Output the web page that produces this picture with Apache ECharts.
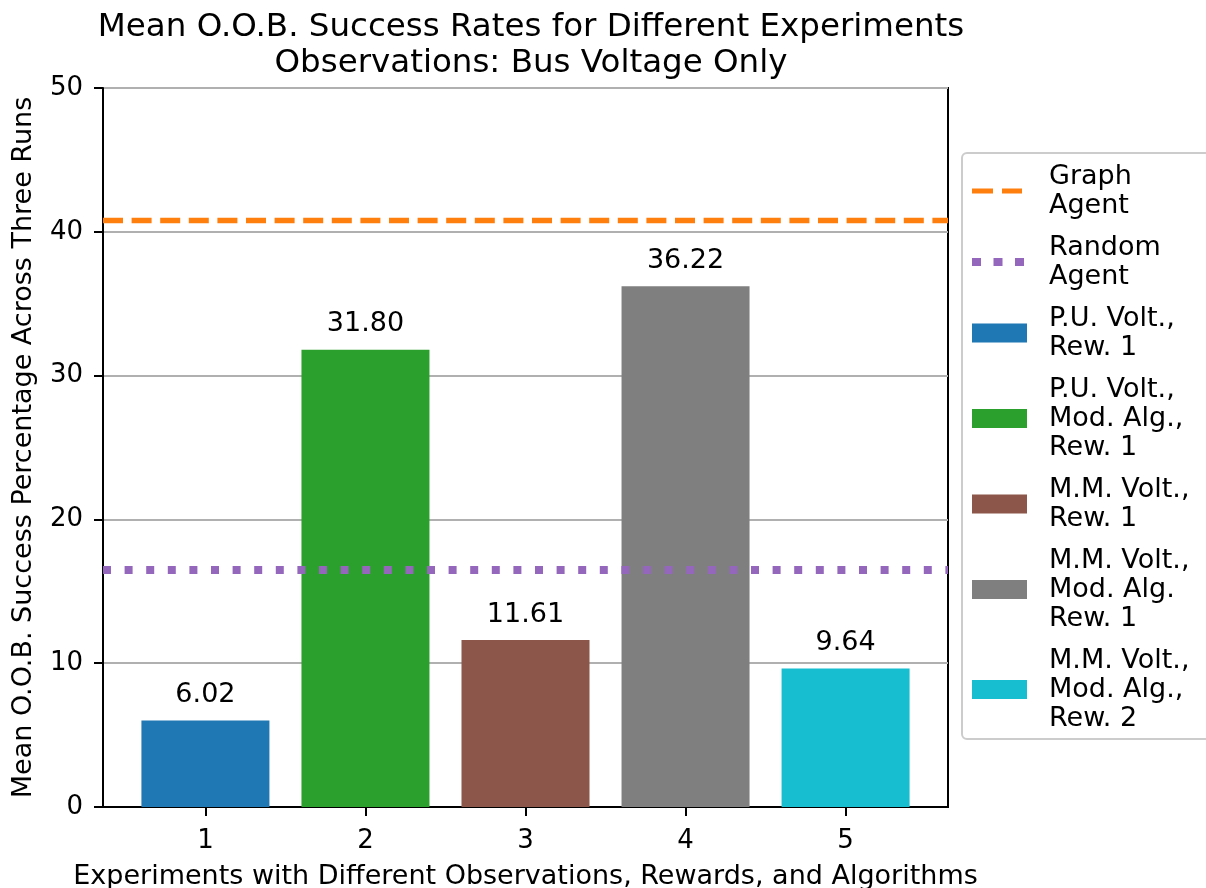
<!DOCTYPE html>
<html>
<head>
<meta charset="utf-8">
<script src="https://cdn.jsdelivr.net/npm/echarts@6/dist/echarts.min.js"></script>
<style>
  html, body { margin: 0; padding: 0; background: #fff; }
  #container { width: 1206px; height: 888px; }
</style>
</head>
<body>
<div id="container"></div>
<script>
// data
var experiments = [1, 2, 3, 4, 5];
var barNames = [
    'P.U. Volt.,\nRew. 1',
    'P.U. Volt.,\nMod. Alg.,\nRew. 1',
    'M.M. Volt.,\nRew. 1',
    'M.M. Volt.,\nMod. Alg.\nRew. 1',
    'M.M. Volt.,\nMod. Alg.,\nRew. 2'
];
var successRates = [6.02, 31.80, 11.61, 36.22, 9.64];
var barColors = ['#1f77b4', '#2ca02c', '#8c564b', '#7f7f7f', '#17becf'];
var graphAgent = 40.77;
var randomAgent = 16.48;
var yTicks = [0, 10, 20, 30, 40, 50];

var font = 'DejaVu Sans';
var orange = '#ff7f0e';
var purple = '#9467bd';

var dom = document.getElementById('container');
var myChart = echarts.init(dom, null, { renderer: 'canvas' });

// reference lines (legend entries first)
var series = [
    {
        name: 'Graph\nAgent',
        type: 'line',
        data: [],
        z: 5,
        symbol: 'none',
        itemStyle: { color: orange },
        lineStyle: { color: orange, width: 5.4, type: [20, 8.6] },
        markLine: {
            silent: true,
            symbol: 'none',
            label: { show: false },
            lineStyle: { color: orange, width: 5.4, type: [20, 8.6] },
            data: [{ yAxis: graphAgent }]
        }
    },
    {
        name: 'Random\nAgent',
        type: 'line',
        data: [],
        z: 1,
        symbol: 'none',
        itemStyle: { color: purple },
        lineStyle: { color: purple, width: 8, type: [8, 13.6] },
        markLine: {
            silent: true,
            symbol: 'none',
            label: { show: false },
            lineStyle: { color: purple, width: 8, type: [8, 13.6] },
            data: [{ yAxis: randomAgent }]
        }
    }
];

// one bar series per experiment so each gets its own legend entry
experiments.forEach(function (e, i) {
    series.push({
        name: barNames[i],
        type: 'bar',
        z: 3,
        barWidth: 128,
        barGap: '-100%',
        itemStyle: { color: barColors[i] },
        data: [[e, successRates[i]]],
        label: {
            show: true,
            position: 'top',
            distance: 12,
            fontFamily: font,
            fontSize: 27,
            color: '#000',
            formatter: function (p) { return p.value[1].toFixed(2); }
        }
    });
});

// legend entries: dashed / dotted samples drawn as small paths
var legendData = [
    {
        name: 'Graph\nAgent',
        icon: 'path://M0,0M55,19M0,7h21v5h-21zM30,7h20v5h-20z',
        itemStyle: { color: orange, borderWidth: 0 }
    },
    {
        name: 'Random\nAgent',
        icon: 'path://M0,0M55,19M0,5.5h9v8h-9zM21.5,5.5h9v8h-9zM43,5.5h9v8h-9z',
        itemStyle: { color: purple, borderWidth: 0 }
    }
];
barNames.forEach(function (n) {
    legendData.push({ name: n, icon: 'rect' });
});

var option = {
    animation: false,
    title: {
        text: 'Mean O.O.B. Success Rates for Different Experiments\nObservations: Bus Voltage Only',
        left: 526,
        top: 5,
        textAlign: 'center',
        textStyle: {
            fontFamily: font,
            fontSize: 32.5,
            fontWeight: 'normal',
            color: '#000',
            lineHeight: 36
        }
    },
    grid: {
        left: 103,
        right: 258,
        top: 88,
        bottom: 81,
        outerBoundsMode: 'none',
        containLabel: false,
        show: true,
        borderColor: '#000',
        borderWidth: 2,
        backgroundColor: 'transparent'
    },
    legend: {
        orient: 'vertical',
        left: 962,
        top: 153,
        padding: [9, 40, 6, 10],
        itemGap: 13,
        itemWidth: 55,
        itemHeight: 19,
        backgroundColor: '#fff',
        borderColor: '#cccccc',
        borderWidth: 2,
        borderRadius: 5,
        selectedMode: false,
        data: legendData,
        textStyle: {
            fontFamily: font,
            fontSize: 27,
            lineHeight: 29,
            color: '#000',
            padding: [0, 0, 0, 17]
        }
    },
    xAxis: {
        type: 'value',
        min: 0.36,
        max: 5.64,
        name: 'Experiments with Different Observations, Rewards, and Algorithms',
        nameLocation: 'middle',
        nameGap: 56,
        nameMoveOverlap: false,
        nameTextStyle: { fontFamily: font, fontSize: 27, color: '#000' },
        axisLine: { show: true, onZero: false, lineStyle: { color: '#000', width: 2 } },
        axisTick: { show: true, length: 9, lineStyle: { color: '#000', width: 2 }, customValues: experiments },
        axisLabel: { fontFamily: font, fontSize: 26, color: '#000', margin: 21, customValues: experiments },
        splitLine: { show: false }
    },
    yAxis: {
        type: 'value',
        min: 0,
        max: 50,
        interval: 10,
        name: 'Mean O.O.B. Success Percentage Across Three Runs',
        nameLocation: 'middle',
        nameGap: 66,
        nameMoveOverlap: false,
        nameTextStyle: { fontFamily: font, fontSize: 27, color: '#000' },
        axisLine: { show: true, lineStyle: { color: '#000', width: 2 } },
        axisTick: { show: true, length: 9, lineStyle: { color: '#000', width: 2 } },
        axisLabel: {
            fontFamily: font, fontSize: 26, color: '#000', margin: 20,
            formatter: function (v) { return yTicks.indexOf(v) >= 0 ? String(v) : ''; }
        },
        splitLine: { show: true, lineStyle: { color: '#b0b0b0', width: 2 } }
    },
    series: series
};

myChart.setOption(option);
window.addEventListener('resize', myChart.resize);
</script>
</body>
</html>
